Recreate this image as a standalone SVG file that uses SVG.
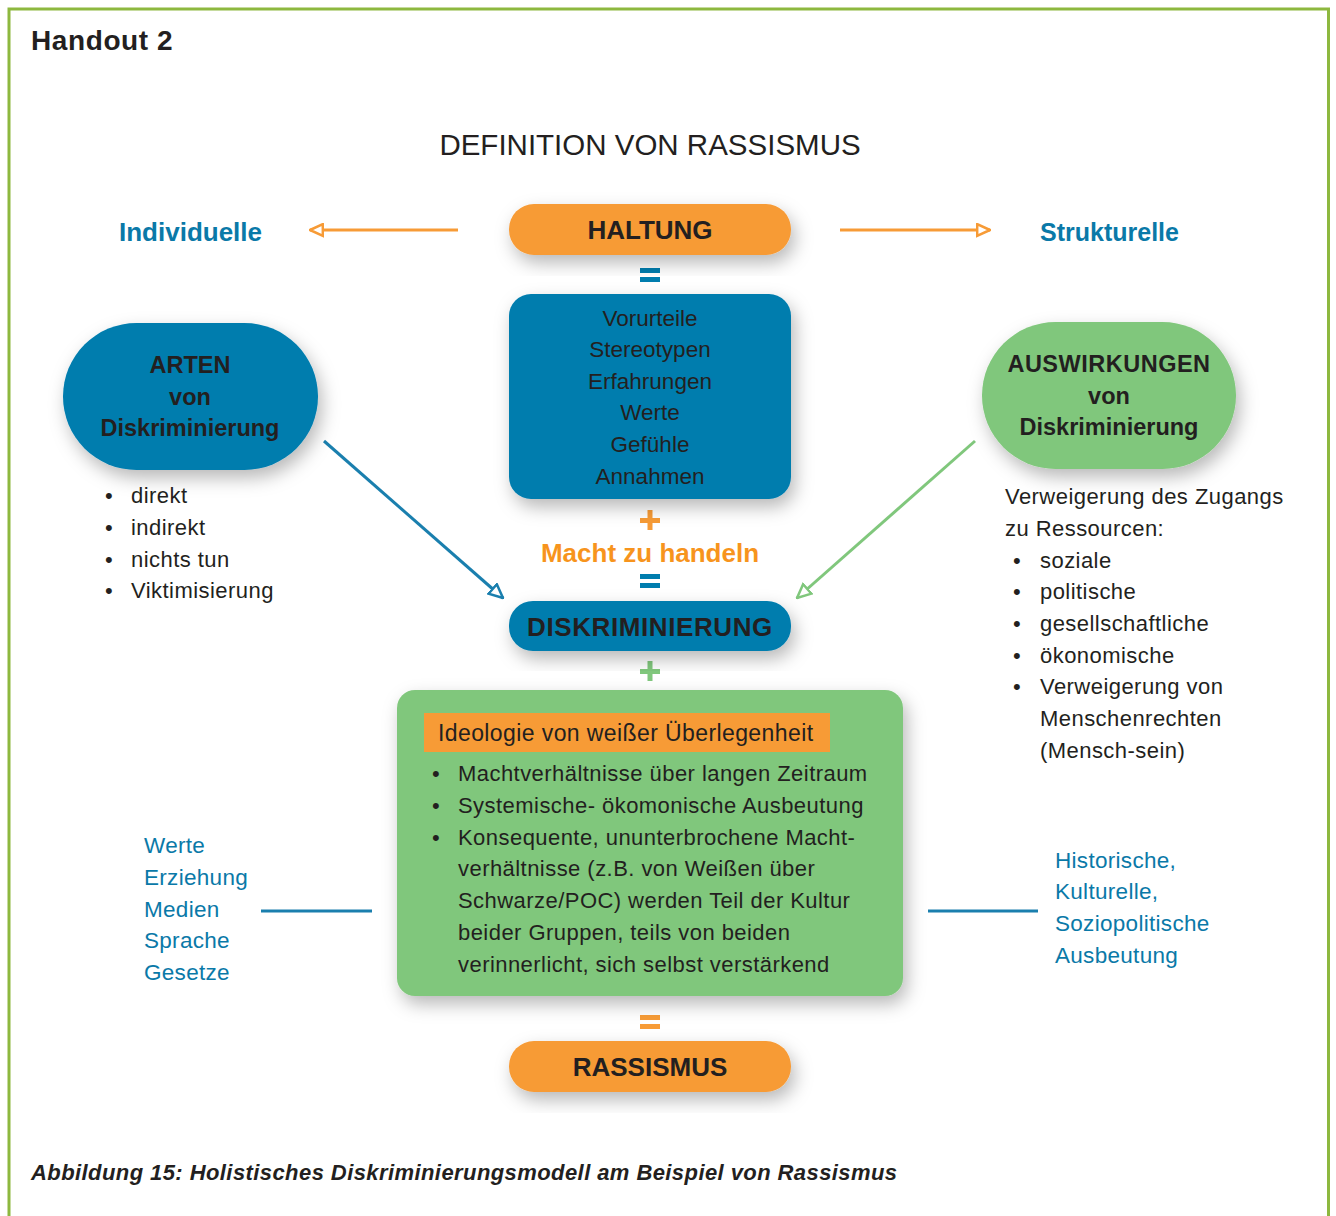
<svg xmlns="http://www.w3.org/2000/svg" width="1336" height="1216" viewBox="0 0 1336 1216">
  <style>
    text { font-family: "Liberation Sans", Arial, sans-serif; fill: #231f20; }
    .title { font-size: 28px; font-weight: bold; letter-spacing: 0.6px; }
    .head { font-size: 29.5px; }
    .box-label { font-size: 26px; font-weight: bold; text-anchor: middle; }
    .inner { font-size: 22.5px; text-anchor: middle; }
    .oval-label { font-size: 23.5px; font-weight: bold; text-anchor: middle; }
    .body { font-size: 22px; letter-spacing: 0.45px; }
    .blue-head { font-size: 26px; font-weight: bold; fill: #0a79a8; }
    .blue-text { font-size: 22.5px; letter-spacing: 0.3px; fill: #0a79a8; }
    .caption { font-size: 22px; font-style: italic; font-weight: bold; letter-spacing: 0.42px; }
    .orange { fill: #F79B36; }
    .blue { fill: #007DAE; }
    .green { fill: #80C77C; }
  </style>
  <defs>
    <filter id="shadow" x="-20%" y="-30%" width="140%" height="170%">
      <feDropShadow dx="4" dy="8" stdDeviation="9" flood-color="#000" flood-opacity="0.28"/>
    </filter>
    <marker id="head-orange" viewBox="0 0 14 14" refX="13" refY="7" markerWidth="15" markerHeight="15" markerUnits="userSpaceOnUse" orient="auto">
      <path d="M1,1.5 L13,7 L1,12.5 Z" fill="#fff" stroke="#F79B36" stroke-width="2.4"/>
    </marker>
    <marker id="head-blue" viewBox="0 0 14 14" refX="13" refY="7" markerWidth="16" markerHeight="16" markerUnits="userSpaceOnUse" orient="auto">
      <path d="M1,1.5 L13,7 L1,12.5 Z" fill="#fff" stroke="#1a7fae" stroke-width="2.2"/>
    </marker>
    <marker id="head-green" viewBox="0 0 14 14" refX="13" refY="7" markerWidth="16" markerHeight="16" markerUnits="userSpaceOnUse" orient="auto">
      <path d="M1,1.5 L13,7 L1,12.5 Z" fill="#fff" stroke="#80C77C" stroke-width="2.2"/>
    </marker>
  </defs>

  <!-- page frame -->
  <rect x="0" y="0" width="1336" height="1216" fill="#fff"/>
  <rect x="9" y="9" width="1319.5" height="1220" fill="none" stroke="#8DB83F" stroke-width="3"/>

  <text class="title" x="31" y="50">Handout 2</text>
  <text class="head" x="650" y="155" text-anchor="middle">DEFINITION VON RASSISMUS</text>

  <text class="blue-head" x="119" y="241">Individuelle</text>
  <text class="blue-head" x="1040" y="241" style="font-size:25px">Strukturelle</text>

  <!-- connectors -->
  <g id="connectors">
    <line x1="458" y1="230" x2="310" y2="230" stroke="#F79B36" stroke-width="3" marker-end="url(#head-orange)"/>
    <line x1="840" y1="230" x2="990" y2="230" stroke="#F79B36" stroke-width="3" marker-end="url(#head-orange)"/>
    <line x1="324" y1="441" x2="503" y2="598" stroke="#1a7fae" stroke-width="3" marker-end="url(#head-blue)"/>
    <line x1="975" y1="441" x2="797" y2="598" stroke="#80C77C" stroke-width="3" marker-end="url(#head-green)"/>
    <line x1="261" y1="911" x2="372" y2="911" stroke="#1a7fae" stroke-width="3"/>
    <line x1="928" y1="911" x2="1038" y2="911" stroke="#1a7fae" stroke-width="3"/>
  </g>

  <!-- operators between boxes -->
  <g id="operators">
    <rect class="blue" x="640" y="268" width="20" height="5"/>
    <rect class="blue" x="640" y="277" width="20" height="5"/>
    <rect class="orange" x="640" y="518" width="20" height="5"/>
    <rect class="orange" x="647.5" y="510" width="5" height="20"/>
    <rect class="blue" x="640" y="574" width="20" height="5"/>
    <rect class="blue" x="640" y="583" width="20" height="5"/>
    <rect class="green" x="640" y="669" width="20" height="5"/>
    <rect class="green" x="647.5" y="661" width="5" height="20"/>
    <rect class="orange" x="640" y="1015" width="20" height="5"/>
    <rect class="orange" x="640" y="1024" width="20" height="5"/>
  </g>

  <g id="haltung">
    <rect class="orange" x="509" y="204" width="282" height="51" rx="25" filter="url(#shadow)"/>
    <text class="box-label" x="650" y="239">HALTUNG</text>
  </g>

  <g id="faktoren">
    <rect class="blue" x="509" y="294" width="282" height="205" rx="22" filter="url(#shadow)"/>
    <text class="inner" x="650" y="326">Vorurteile</text>
    <text class="inner" x="650" y="357">Stereotypen</text>
    <text class="inner" x="650" y="389">Erfahrungen</text>
    <text class="inner" x="650" y="420">Werte</text>
    <text class="inner" x="650" y="452">Gefühle</text>
    <text class="inner" x="650" y="484">Annahmen</text>
  </g>

  <g id="macht">
    <text x="650" y="562" text-anchor="middle" style="font-size:26px;font-weight:bold;fill:#F7941D">Macht zu handeln</text>
  </g>

  <g id="diskriminierung">
    <rect class="blue" x="509" y="601" width="282" height="50" rx="24" filter="url(#shadow)"/>
    <text class="box-label" x="650" y="636" style="letter-spacing:0.6px">DISKRIMINIERUNG</text>
  </g>

  <g id="arten">
    <rect class="blue" x="63" y="323" width="255" height="147" rx="73.5" filter="url(#shadow)"/>
    <text class="oval-label" x="190" y="373">ARTEN</text>
    <text class="oval-label" x="190" y="405">von</text>
    <text class="oval-label" x="190" y="436">Diskriminierung</text>
  </g>
  <g id="arten-liste">
    <text class="body" x="105" y="503">•</text><text class="body" x="131" y="503">direkt</text>
    <text class="body" x="105" y="535">•</text><text class="body" x="131" y="535">indirekt</text>
    <text class="body" x="105" y="567">•</text><text class="body" x="131" y="567">nichts tun</text>
    <text class="body" x="105" y="598">•</text><text class="body" x="131" y="598">Viktimisierung</text>
  </g>

  <g id="auswirkungen">
    <rect class="green" x="982" y="322" width="254" height="147" rx="73.5" filter="url(#shadow)"/>
    <text class="oval-label" x="1109" y="372" style="letter-spacing:0.5px">AUSWIRKUNGEN</text>
    <text class="oval-label" x="1109" y="404">von</text>
    <text class="oval-label" x="1109" y="435">Diskriminierung</text>
  </g>
  <g id="auswirkungen-liste">
    <text class="body" x="1005" y="504">Verweigerung des Zugangs</text>
    <text class="body" x="1005" y="536">zu Ressourcen:</text>
    <text class="body" x="1013" y="568">•</text><text class="body" x="1040" y="568">soziale</text>
    <text class="body" x="1013" y="599">•</text><text class="body" x="1040" y="599">politische</text>
    <text class="body" x="1013" y="631">•</text><text class="body" x="1040" y="631">gesellschaftliche</text>
    <text class="body" x="1013" y="663">•</text><text class="body" x="1040" y="663">ökonomische</text>
    <text class="body" x="1013" y="694">•</text><text class="body" x="1040" y="694">Verweigerung von</text>
    <text class="body" x="1040" y="726">Menschenrechten</text>
    <text class="body" x="1040" y="758">(Mensch-sein)</text>
  </g>

  <g id="ideologie">
    <rect class="green" x="397" y="690" width="506" height="306" rx="18" filter="url(#shadow)"/>
    <rect class="orange" x="424" y="713" width="406" height="39"/>
    <text x="438" y="741" style="font-size:23px;letter-spacing:0.4px">Ideologie von weißer Überlegenheit</text>
    <text class="body" x="432" y="781">•</text><text class="body" x="458" y="781">Machtverhältnisse über langen Zeitraum</text>
    <text class="body" x="432" y="813">•</text><text class="body" x="458" y="813">Systemische- ökomonische Ausbeutung</text>
    <text class="body" x="432" y="845">•</text><text class="body" x="458" y="845">Konsequente, ununterbrochene Macht-</text>
    <text class="body" x="458" y="876">verhältnisse (z.B. von Weißen über</text>
    <text class="body" x="458" y="908">Schwarze/POC) werden Teil der Kultur</text>
    <text class="body" x="458" y="940">beider Gruppen, teils von beiden</text>
    <text class="body" x="458" y="972">verinnerlicht, sich selbst verstärkend</text>
  </g>

  <g id="einfluesse">
    <text class="blue-text" x="144" y="853">Werte</text>
    <text class="blue-text" x="144" y="885">Erziehung</text>
    <text class="blue-text" x="144" y="917">Medien</text>
    <text class="blue-text" x="144" y="948">Sprache</text>
    <text class="blue-text" x="144" y="980">Gesetze</text>
  </g>

  <g id="ausbeutung">
    <text class="blue-text" x="1055" y="868">Historische,</text>
    <text class="blue-text" x="1055" y="899">Kulturelle,</text>
    <text class="blue-text" x="1055" y="931">Soziopolitische</text>
    <text class="blue-text" x="1055" y="963">Ausbeutung</text>
  </g>

  <g id="rassismus">
    <rect class="orange" x="509" y="1041" width="282" height="51" rx="25" filter="url(#shadow)"/>
    <text class="box-label" x="650" y="1076">RASSISMUS</text>
  </g>

  <text class="caption" x="31" y="1180">Abbildung 15: Holistisches Diskriminierungsmodell am Beispiel von Rassismus</text>
</svg>
